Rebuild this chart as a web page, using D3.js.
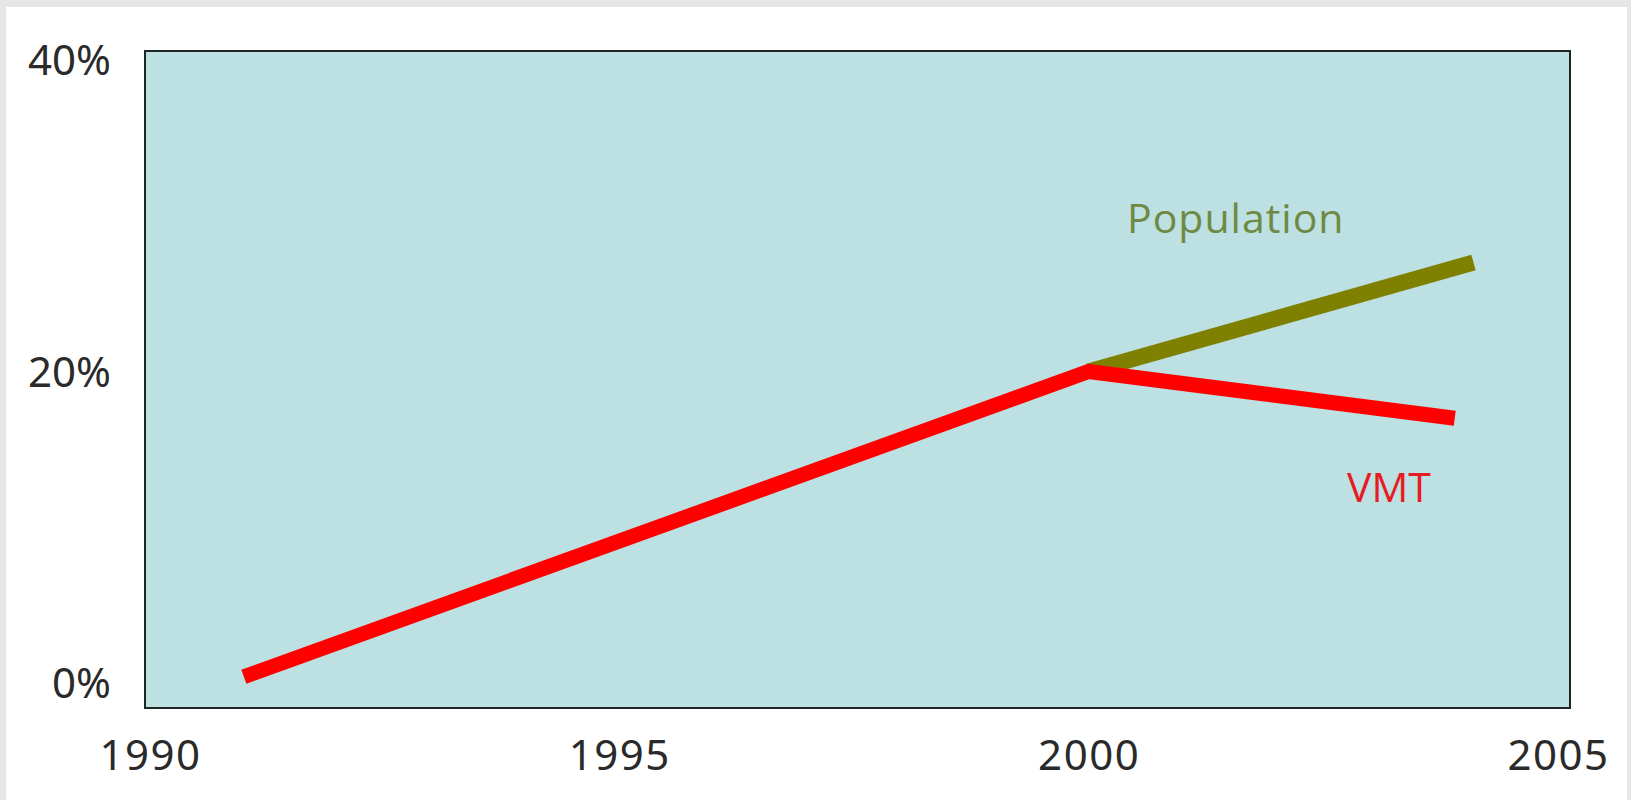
<!DOCTYPE html>
<html>
<head>
<meta charset="utf-8">
<script src="https://cdn.jsdelivr.net/npm/d3@7"></script>
<style>
  html, body { margin: 0; padding: 0; background: #e6e6e6; }
  svg { display: block; }
</style>
</head>
<body>
<svg id="chart" width="1631" height="800"></svg>
<script>
// Growth since 1990, in percent
const years = [1991, 2000, 2003.9];
const vmtGrowth = [0.4, 20, 17];
const popYears = [2000, 2004.1];
const popGrowth = [20, 27];

const xTicks = [1990, 1995, 2000, 2005];
const yTicks = [0, 20, 40];
const yTickLabels = ["0%", "20%", "40%"];

const svg = d3.select("#chart");

// white card
svg.append("rect")
  .attr("x", 6).attr("y", 7)
  .attr("width", 1621).attr("height", 800)
  .attr("fill", "#ffffff");

const x = d3.scaleLinear().domain([1990, 2005]).range([150, 1558]);
const y = d3.scaleLinear().domain([0, 40]).range([683, 60]);

// plot area
svg.append("rect")
  .attr("x", 145).attr("y", 51)
  .attr("width", 1425).attr("height", 657)
  .attr("fill", "#bde0e3")
  .attr("stroke", "#1e2626")
  .attr("stroke-width", 2);

const tickFont = "'Noto Sans', 'Open Sans', sans-serif";

// x axis labels
const xAxis = d3.axisBottom(x).tickValues(xTicks).tickFormat(d3.format("d")).tickSize(0).tickPadding(0);
const gx = svg.append("g").attr("transform", "translate(0,741)").call(xAxis);
gx.select(".domain").remove();
gx.selectAll("text")
  .attr("dy", "0.35em")
  .attr("y", 14)
  .style("font-family", tickFont)
  .style("font-size", "42px")
  .style("letter-spacing", "1.5px")
  .style("fill", "#2a2a2a");

// y axis labels
const yAxis = d3.axisLeft(y).tickValues(yTicks)
  .tickFormat((d, i) => yTickLabels[i]).tickSize(0).tickPadding(0);
const gy = svg.append("g").attr("transform", "translate(111,0)").call(yAxis);
gy.select(".domain").remove();
gy.selectAll("text")
  .attr("dy", "0.35em")
  .attr("x", 0)
  .style("font-family", tickFont)
  .style("font-size", "42px")
  .style("fill", "#2a2a2a");

const line = d3.line().x(d => x(d[0])).y(d => y(d[1]));

// population
svg.append("path")
  .datum(popYears.map((yr, i) => [yr, popGrowth[i]]))
  .attr("d", line)
  .attr("fill", "none")
  .attr("stroke", "#7f8000")
  .attr("stroke-width", 16);

// vehicle miles travelled
svg.append("path")
  .datum(years.map((yr, i) => [yr, vmtGrowth[i]]))
  .attr("d", line)
  .attr("fill", "none")
  .attr("stroke", "#fe0000")
  .attr("stroke-width", 15)
  .attr("stroke-linejoin", "miter");

// series labels
svg.append("text")
  .attr("x", 1127).attr("y", 233)
  .style("font-family", "'Open Sans', sans-serif")
  .style("font-size", "41px")
  .style("letter-spacing", "1px")
  .style("fill", "#6e8a42")
  .text("Population");

svg.append("text")
  .attr("x", 1347).attr("y", 502)
  .style("font-family", "'Open Sans', sans-serif")
  .style("font-size", "41px")
  .style("fill", "#e61c24")
  .text("VMT");
</script>
</body>
</html>
